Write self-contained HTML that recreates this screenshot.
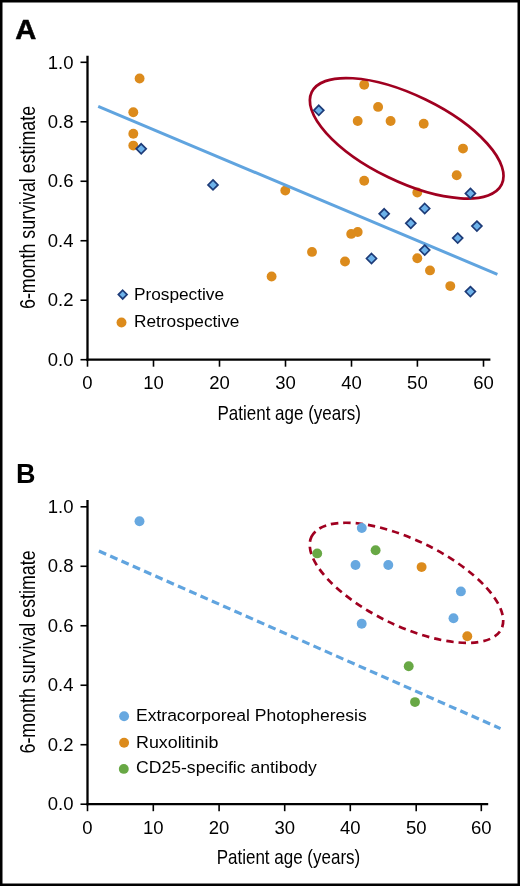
<!DOCTYPE html>
<html><head><meta charset="utf-8"><style>
html,body{margin:0;padding:0;background:#fff;}
body{width:520px;height:886px;overflow:hidden;position:relative;}
svg{position:absolute;left:0;top:0;will-change:transform;}
text{font-family:"Liberation Sans",sans-serif;fill:#000;}
.tick{font-size:18.5px;}
.panel{font-size:27px;font-weight:bold;}
.ytitle{font-size:22px;}
.xtitle{font-size:21px;}
.leg{font-size:17px;}
</style></head><body>
<svg width="520" height="886" viewBox="0 0 520 886">
<rect x="1.25" y="1.25" width="517.5" height="883.5" fill="#fff" stroke="#000" stroke-width="2.5"/>
<text transform="translate(15.2,38.5) scale(1.08,1)" class="panel" stroke="#000" stroke-width="0.5">A</text>
<line x1="87.5" y1="55.8" x2="87.5" y2="360.7" stroke="#000" stroke-width="2.3"/>
<line x1="86.4" y1="359.7" x2="490.4" y2="359.7" stroke="#000" stroke-width="2.3"/>
<line x1="80.5" y1="359.70" x2="87.5" y2="359.70" stroke="#000" stroke-width="1.6"/>
<text x="73.5" y="365.90" text-anchor="end" class="tick">0.0</text>
<line x1="80.5" y1="300.22" x2="87.5" y2="300.22" stroke="#000" stroke-width="1.6"/>
<text x="73.5" y="306.42" text-anchor="end" class="tick">0.2</text>
<line x1="80.5" y1="240.74" x2="87.5" y2="240.74" stroke="#000" stroke-width="1.6"/>
<text x="73.5" y="246.94" text-anchor="end" class="tick">0.4</text>
<line x1="80.5" y1="181.26" x2="87.5" y2="181.26" stroke="#000" stroke-width="1.6"/>
<text x="73.5" y="187.46" text-anchor="end" class="tick">0.6</text>
<line x1="80.5" y1="121.78" x2="87.5" y2="121.78" stroke="#000" stroke-width="1.6"/>
<text x="73.5" y="127.98" text-anchor="end" class="tick">0.8</text>
<line x1="80.5" y1="62.30" x2="87.5" y2="62.30" stroke="#000" stroke-width="1.6"/>
<text x="73.5" y="68.50" text-anchor="end" class="tick">1.0</text>
<line x1="87.50" y1="359.7" x2="87.50" y2="366.7" stroke="#000" stroke-width="1.6"/>
<text x="87.50" y="389.40" text-anchor="middle" class="tick">0</text>
<line x1="153.50" y1="359.7" x2="153.50" y2="366.7" stroke="#000" stroke-width="1.6"/>
<text x="153.50" y="389.40" text-anchor="middle" class="tick">10</text>
<line x1="219.50" y1="359.7" x2="219.50" y2="366.7" stroke="#000" stroke-width="1.6"/>
<text x="219.50" y="389.40" text-anchor="middle" class="tick">20</text>
<line x1="285.50" y1="359.7" x2="285.50" y2="366.7" stroke="#000" stroke-width="1.6"/>
<text x="285.50" y="389.40" text-anchor="middle" class="tick">30</text>
<line x1="351.50" y1="359.7" x2="351.50" y2="366.7" stroke="#000" stroke-width="1.6"/>
<text x="351.50" y="389.40" text-anchor="middle" class="tick">40</text>
<line x1="417.40" y1="359.7" x2="417.40" y2="366.7" stroke="#000" stroke-width="1.6"/>
<text x="417.40" y="389.40" text-anchor="middle" class="tick">50</text>
<line x1="483.50" y1="359.7" x2="483.50" y2="366.7" stroke="#000" stroke-width="1.6"/>
<text x="483.50" y="389.40" text-anchor="middle" class="tick">60</text>
<text transform="translate(35,309) rotate(-90) scale(0.811,1)" class="ytitle">6-month survival estimate</text>
<text transform="translate(217.5,419.6) scale(0.809,1)" class="xtitle">Patient age (years)</text>
<circle cx="139.6" cy="78.5" r="4.95" fill="#dc8b1c"/>
<circle cx="133.3" cy="112.3" r="4.95" fill="#dc8b1c"/>
<circle cx="133.3" cy="133.7" r="4.95" fill="#dc8b1c"/>
<circle cx="133.3" cy="145.6" r="4.95" fill="#dc8b1c"/>
<circle cx="364.2" cy="84.8" r="4.95" fill="#dc8b1c"/>
<circle cx="378.1" cy="106.9" r="4.95" fill="#dc8b1c"/>
<circle cx="357.7" cy="121" r="4.95" fill="#dc8b1c"/>
<circle cx="390.6" cy="121" r="4.95" fill="#dc8b1c"/>
<circle cx="423.7" cy="123.8" r="4.95" fill="#dc8b1c"/>
<circle cx="463" cy="148.6" r="4.95" fill="#dc8b1c"/>
<circle cx="456.7" cy="175.3" r="4.95" fill="#dc8b1c"/>
<circle cx="417.3" cy="192.5" r="4.95" fill="#dc8b1c"/>
<circle cx="285.3" cy="190.6" r="4.95" fill="#dc8b1c"/>
<circle cx="271.6" cy="276.5" r="4.95" fill="#dc8b1c"/>
<circle cx="364.2" cy="180.8" r="4.95" fill="#dc8b1c"/>
<circle cx="357.7" cy="232" r="4.95" fill="#dc8b1c"/>
<circle cx="351.2" cy="233.9" r="4.95" fill="#dc8b1c"/>
<circle cx="312" cy="251.9" r="4.95" fill="#dc8b1c"/>
<circle cx="345" cy="261.5" r="4.95" fill="#dc8b1c"/>
<circle cx="417.3" cy="258.3" r="4.95" fill="#dc8b1c"/>
<circle cx="430" cy="270.4" r="4.95" fill="#dc8b1c"/>
<circle cx="450.3" cy="286.1" r="4.95" fill="#dc8b1c"/>
<line x1="98.2" y1="106.4" x2="497.4" y2="274.3" stroke="#60a4df" stroke-width="3.0"/>
<ellipse cx="406.7" cy="138.3" rx="105.6" ry="43.1" transform="rotate(25.9 406.7 138.3)" fill="none" stroke="#a00020" stroke-width="2.7"/>
<path d="M141.2 143.8L146.2 148.8L141.2 153.8L136.2 148.8Z" fill="#6db2ea" stroke="#1d3b78" stroke-width="1.7" stroke-linejoin="miter"/>
<path d="M213 179.9L218.0 184.9L213 189.9L208.0 184.9Z" fill="#6db2ea" stroke="#1d3b78" stroke-width="1.7" stroke-linejoin="miter"/>
<path d="M318.8 105.3L323.8 110.3L318.8 115.3L313.8 110.3Z" fill="#6db2ea" stroke="#1d3b78" stroke-width="1.7" stroke-linejoin="miter"/>
<path d="M470.4 188.4L475.4 193.4L470.4 198.4L465.4 193.4Z" fill="#6db2ea" stroke="#1d3b78" stroke-width="1.7" stroke-linejoin="miter"/>
<path d="M424.7 203.5L429.7 208.5L424.7 213.5L419.7 208.5Z" fill="#6db2ea" stroke="#1d3b78" stroke-width="1.7" stroke-linejoin="miter"/>
<path d="M410.8 218.3L415.8 223.3L410.8 228.3L405.8 223.3Z" fill="#6db2ea" stroke="#1d3b78" stroke-width="1.7" stroke-linejoin="miter"/>
<path d="M476.9 221.1L481.9 226.1L476.9 231.1L471.9 226.1Z" fill="#6db2ea" stroke="#1d3b78" stroke-width="1.7" stroke-linejoin="miter"/>
<path d="M457.7 233.1L462.7 238.1L457.7 243.1L452.7 238.1Z" fill="#6db2ea" stroke="#1d3b78" stroke-width="1.7" stroke-linejoin="miter"/>
<path d="M424.7 245.1L429.7 250.1L424.7 255.1L419.7 250.1Z" fill="#6db2ea" stroke="#1d3b78" stroke-width="1.7" stroke-linejoin="miter"/>
<path d="M470.4 286.6L475.4 291.6L470.4 296.6L465.4 291.6Z" fill="#6db2ea" stroke="#1d3b78" stroke-width="1.7" stroke-linejoin="miter"/>
<path d="M384.2 208.8L389.2 213.8L384.2 218.8L379.2 213.8Z" fill="#6db2ea" stroke="#1d3b78" stroke-width="1.7" stroke-linejoin="miter"/>
<path d="M371.5 253.5L376.5 258.5L371.5 263.5L366.5 258.5Z" fill="#6db2ea" stroke="#1d3b78" stroke-width="1.7" stroke-linejoin="miter"/>
<path d="M122.7 290.25L127.05 294.6L122.7 298.95000000000005L118.35000000000001 294.6Z" fill="#6db2ea" stroke="#1d3b78" stroke-width="1.7" stroke-linejoin="miter"/>
<circle cx="121.5" cy="322.5" r="4.95" fill="#dc8b1c"/>
<text transform="translate(134,299.7) scale(1.015,1)" class="leg">Prospective</text>
<text transform="translate(134,327.3) scale(1.015,1)" class="leg">Retrospective</text>
<text x="16" y="483.1" class="panel">B</text>
<line x1="87.5" y1="500" x2="87.5" y2="805.2" stroke="#000" stroke-width="2.3"/>
<line x1="86.4" y1="804.2" x2="488.2" y2="804.2" stroke="#000" stroke-width="2.3"/>
<line x1="80.5" y1="804.20" x2="87.5" y2="804.20" stroke="#000" stroke-width="1.6"/>
<text x="73.5" y="810.40" text-anchor="end" class="tick">0.0</text>
<line x1="80.5" y1="744.72" x2="87.5" y2="744.72" stroke="#000" stroke-width="1.6"/>
<text x="73.5" y="750.92" text-anchor="end" class="tick">0.2</text>
<line x1="80.5" y1="685.24" x2="87.5" y2="685.24" stroke="#000" stroke-width="1.6"/>
<text x="73.5" y="691.44" text-anchor="end" class="tick">0.4</text>
<line x1="80.5" y1="625.76" x2="87.5" y2="625.76" stroke="#000" stroke-width="1.6"/>
<text x="73.5" y="631.96" text-anchor="end" class="tick">0.6</text>
<line x1="80.5" y1="566.28" x2="87.5" y2="566.28" stroke="#000" stroke-width="1.6"/>
<text x="73.5" y="572.48" text-anchor="end" class="tick">0.8</text>
<line x1="80.5" y1="506.80" x2="87.5" y2="506.80" stroke="#000" stroke-width="1.6"/>
<text x="73.5" y="513.00" text-anchor="end" class="tick">1.0</text>
<line x1="87.50" y1="804.2" x2="87.50" y2="811.2" stroke="#000" stroke-width="1.6"/>
<text x="87.50" y="833.90" text-anchor="middle" class="tick">0</text>
<line x1="153.30" y1="804.2" x2="153.30" y2="811.2" stroke="#000" stroke-width="1.6"/>
<text x="153.30" y="833.90" text-anchor="middle" class="tick">10</text>
<line x1="219.10" y1="804.2" x2="219.10" y2="811.2" stroke="#000" stroke-width="1.6"/>
<text x="219.10" y="833.90" text-anchor="middle" class="tick">20</text>
<line x1="284.70" y1="804.2" x2="284.70" y2="811.2" stroke="#000" stroke-width="1.6"/>
<text x="284.70" y="833.90" text-anchor="middle" class="tick">30</text>
<line x1="350.30" y1="804.2" x2="350.30" y2="811.2" stroke="#000" stroke-width="1.6"/>
<text x="350.30" y="833.90" text-anchor="middle" class="tick">40</text>
<line x1="416.20" y1="804.2" x2="416.20" y2="811.2" stroke="#000" stroke-width="1.6"/>
<text x="416.20" y="833.90" text-anchor="middle" class="tick">50</text>
<line x1="481.30" y1="804.2" x2="481.30" y2="811.2" stroke="#000" stroke-width="1.6"/>
<text x="481.30" y="833.90" text-anchor="middle" class="tick">60</text>
<text transform="translate(35,753.5) rotate(-90) scale(0.811,1)" class="ytitle">6-month survival estimate</text>
<text transform="translate(216.7,863.8) scale(0.809,1)" class="xtitle">Patient age (years)</text>
<line x1="98.9" y1="551.0" x2="500.5" y2="728.6" stroke="#60a4df" stroke-width="3.2" stroke-dasharray="7.9 4.45"/>
<path d="M311.51 536.67A105.6 43.1 25.9 0 1 501.49 628.93A105.6 43.1 25.9 0 1 311.51 536.67" fill="none" stroke="#a00020" stroke-width="2.7" stroke-dasharray="7.3 5.05" stroke-dashoffset="0.65"/>
<circle cx="139.5" cy="521.3" r="4.95" fill="#67a8e0"/>
<circle cx="361.8" cy="528" r="4.95" fill="#67a8e0"/>
<circle cx="355.5" cy="565" r="4.95" fill="#67a8e0"/>
<circle cx="388.3" cy="565" r="4.95" fill="#67a8e0"/>
<circle cx="460.9" cy="591.4" r="4.95" fill="#67a8e0"/>
<circle cx="453.5" cy="618.3" r="4.95" fill="#67a8e0"/>
<circle cx="361.7" cy="623.7" r="4.95" fill="#67a8e0"/>
<circle cx="421.6" cy="567.1" r="4.95" fill="#dc8b1c"/>
<circle cx="467.3" cy="636.3" r="4.95" fill="#dc8b1c"/>
<circle cx="317.2" cy="553.4" r="4.95" fill="#68a845"/>
<circle cx="375.6" cy="550.2" r="4.95" fill="#68a845"/>
<circle cx="408.7" cy="666.3" r="4.95" fill="#68a845"/>
<circle cx="415" cy="702.1" r="4.95" fill="#68a845"/>
<circle cx="124.1" cy="716.2" r="4.95" fill="#67a8e0"/>
<circle cx="124.1" cy="742.7" r="4.95" fill="#dc8b1c"/>
<circle cx="123.8" cy="768.9" r="4.95" fill="#68a845"/>
<text transform="translate(136,721.2) scale(1.031,1)" class="leg">Extracorporeal Photopheresis</text>
<text transform="translate(136,747.5) scale(1.05,1)" class="leg">Ruxolitinib</text>
<text transform="translate(136,773.4) scale(1.035,1)" class="leg">CD25-specific antibody</text>
</svg>
</body></html>
